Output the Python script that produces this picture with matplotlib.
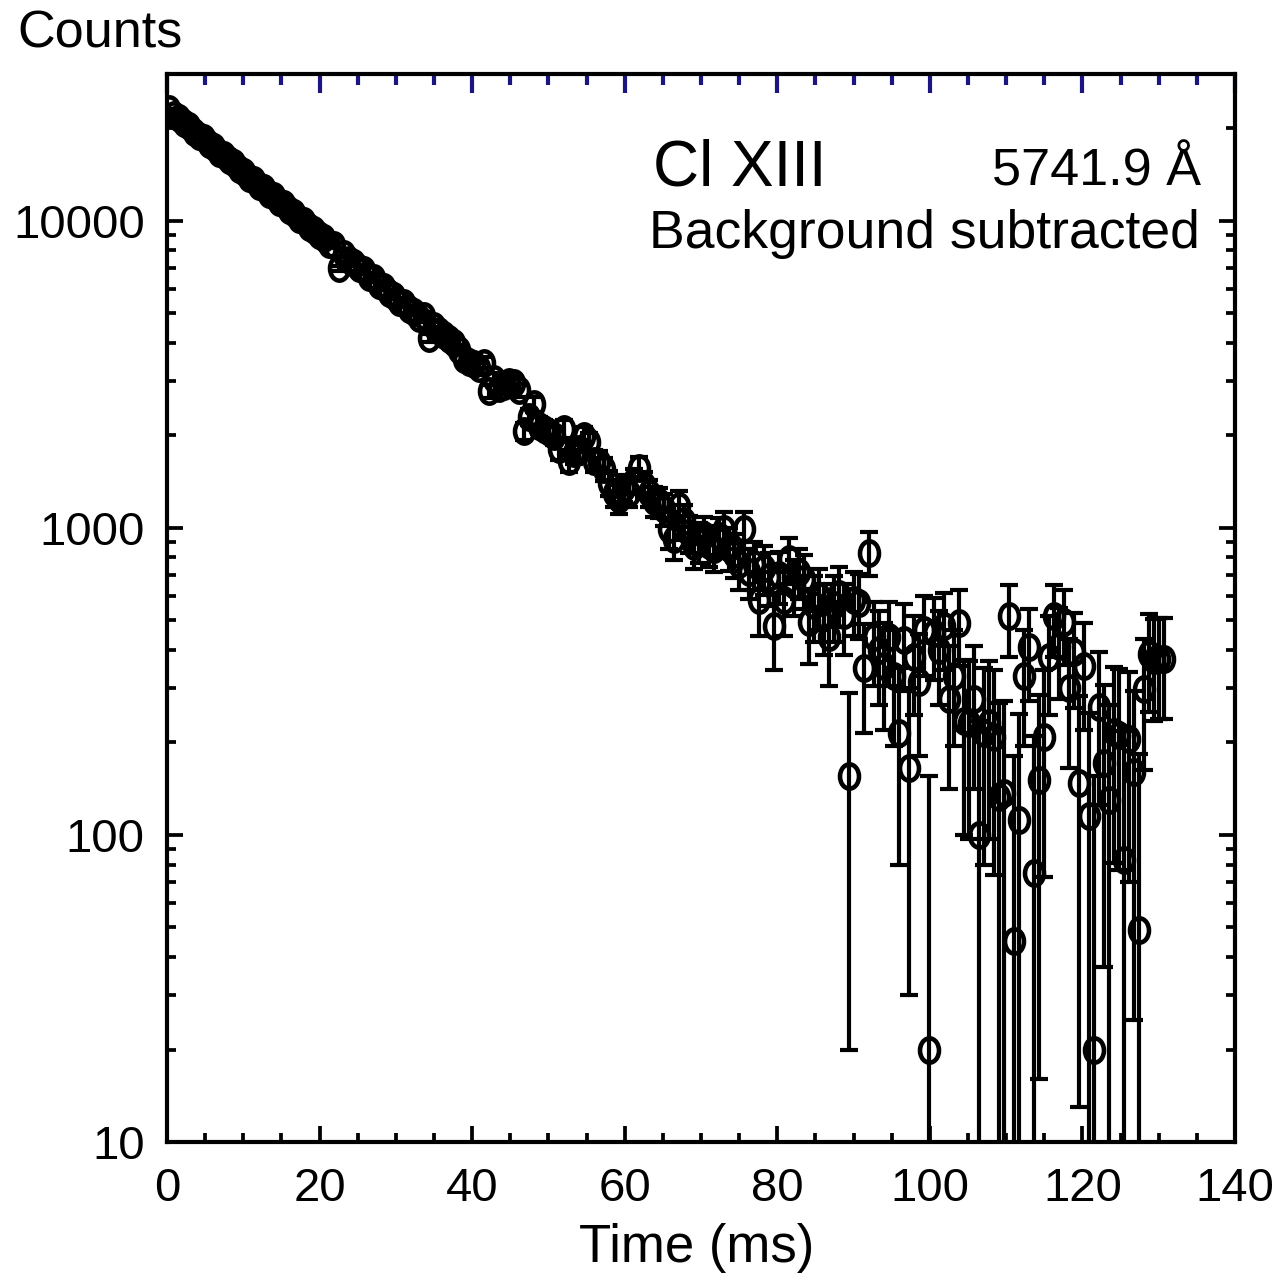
import matplotlib
matplotlib.use('Agg')
import numpy as np
import matplotlib.pyplot as plt
from matplotlib.path import Path
from matplotlib.ticker import FixedLocator, MultipleLocator, LogLocator, NullFormatter, FixedFormatter

plt.rcParams['font.family'] = ['Liberation Sans', 'DejaVu Sans']

#-----------------------------------------------------------------------------
## Data
#-----------------------------------------------------------------------------
t_first = 0.3      # ms, centre of first bin
t_step = 0.655     # ms, bin width
counts = [
    23000, 22100, 21600, 20700, 20300, 19400, 18900, 18500, 17700, 17400,
    16600, 16300, 15700, 15400, 14700, 14400, 13800, 13600, 13000, 12800,
    12200, 12000, 11500, 11300, 10800, 10600, 10100, 9950, 9550, 9350,
    8950, 8800, 8400, 8300, 7000, 7800, 7450, 7300, 7000, 6900,
    6550, 6480, 6150, 6080, 5800, 5700, 5450, 5380, 5150, 5050,
    4800, 4900, 4150, 4550, 4380, 4250, 4120, 3980, 3800, 3550,
    3470, 3400, 3300, 3450, 2780, 3050, 2850, 2900, 2980, 2950,
    2800, 2060, 2300, 2520, 2150, 2100, 2050, 1990, 1800, 2100,
    1650, 1750, 1800, 1990, 1900, 1650, 1640, 1550, 1400, 1300,
    1240, 1350, 1300, 1420, 1560, 1380, 1300, 1220, 1210, 1150,
    990, 920, 1180, 1050, 960, 870, 900, 950, 880, 850,
    940, 990, 860, 820, 760, 990, 720, 760, 580, 740,
    690, 480, 700, 580, 790, 650, 720, 680, 495, 560,
    600, 520, 440, 560, 610, 520, 155, 580, 570, 350,
    830, 440, 400, 355, 440, 330, 215, 430, 165, 380,
    315, 465, 20, 455, 400, 478, 276, 330, 490, 235,
    232, 276, 100, 215, 232, 209, 133, 137, 515, 45,
    112, 330, 408, 75, 151, 208, 380, 515, 411, 492,
    300, 393, 148, 354, 115, 20, 260, 172, 130, 216,
    212, 83, 205, 160, 49, 298, 387, 370, 373, 373,
]
count_err = 135    # counts, one sigma (background dominated)

time = t_first + t_step * np.arange(len(counts))
counts = np.array(counts, dtype=float)

x_major = [0, 20, 40, 60, 80, 100, 120, 140]
y_major = [10, 100, 1000, 10000]
y_labels = ['10', '100', '1000', '10000']

#-----------------------------------------------------------------------------
## Figure
#-----------------------------------------------------------------------------
W, H = 1281, 1285
fig = plt.figure(figsize=(W/100, H/100), dpi=100)
ax = fig.add_axes([167/W, 1-1142/H, (1235-167)/W, (1142-74)/H])

# open ellipse marker, a bit taller than wide
circ = Path.unit_circle()
ellipse = Path(circ.vertices * np.array([0.78, 1.0]), circ.codes)

ax.errorbar(time, counts, yerr=count_err, fmt='none', ecolor='black',
            elinewidth=3.0, capsize=6.5, capthick=3.0, zorder=2)
ax.plot(time, counts, linestyle='none', marker=ellipse, markersize=17.5,
        markerfacecolor='none', markeredgecolor='black', markeredgewidth=3.3, zorder=3)

ax.set_yscale('log', nonpositive='clip')
ax.set_xlim(0, 140)
ax.set_ylim(10, 30000)

#-----------------------------------------------------------------------------
## Ticks and spines
#-----------------------------------------------------------------------------
ax.xaxis.set_major_locator(FixedLocator(x_major))
ax.xaxis.set_minor_locator(MultipleLocator(5))
ax.yaxis.set_major_locator(FixedLocator(y_major))
ax.yaxis.set_major_formatter(FixedFormatter(y_labels))
ax.yaxis.set_minor_locator(LogLocator(base=10, subs=np.arange(2, 10), numticks=20))
ax.yaxis.set_minor_formatter(NullFormatter())

ax.tick_params(which='both', direction='in', width=2.7, color='black',
               bottom=True, left=True, right=True, top=False, labelsize=34)
ax.tick_params(which='major', length=11.5)
ax.tick_params(which='minor', length=6.5)
ax.tick_params(axis='x', pad=18)
ax.tick_params(axis='y', pad=16)
for s in ax.spines.values():
    s.set_linewidth(3.0)

# top ticks are navy
ax_top = ax.secondary_xaxis('top')
ax_top.xaxis.set_major_locator(FixedLocator(x_major))
ax_top.xaxis.set_minor_locator(MultipleLocator(5))
ax_top.tick_params(which='both', direction='in', width=3.0, color='#1c1480',
                   labeltop=False)
ax_top.tick_params(which='major', length=14)
ax_top.tick_params(which='minor', length=8)
ax_top.spines['top'].set_visible(False)

#-----------------------------------------------------------------------------
## Labels
#-----------------------------------------------------------------------------
fig.text(17/W, 1-48/H, 'Counts', fontsize=37.5, ha='left', va='baseline')
fig.text(697/W, 1-1262/H, 'Time (ms)', fontsize=38, ha='center', va='baseline')
fig.text(653/W, 1-186/H, 'Cl XIII', fontsize=46, ha='left', va='baseline')
fig.text(1201/W, 1-186/H, '5741.9 Å', fontsize=37.5, ha='right', va='baseline')
fig.text(649/W, 1-248/H, 'Background subtracted', fontsize=38.5, ha='left', va='baseline')

fig.savefig('out.png', dpi=100, facecolor='w')
